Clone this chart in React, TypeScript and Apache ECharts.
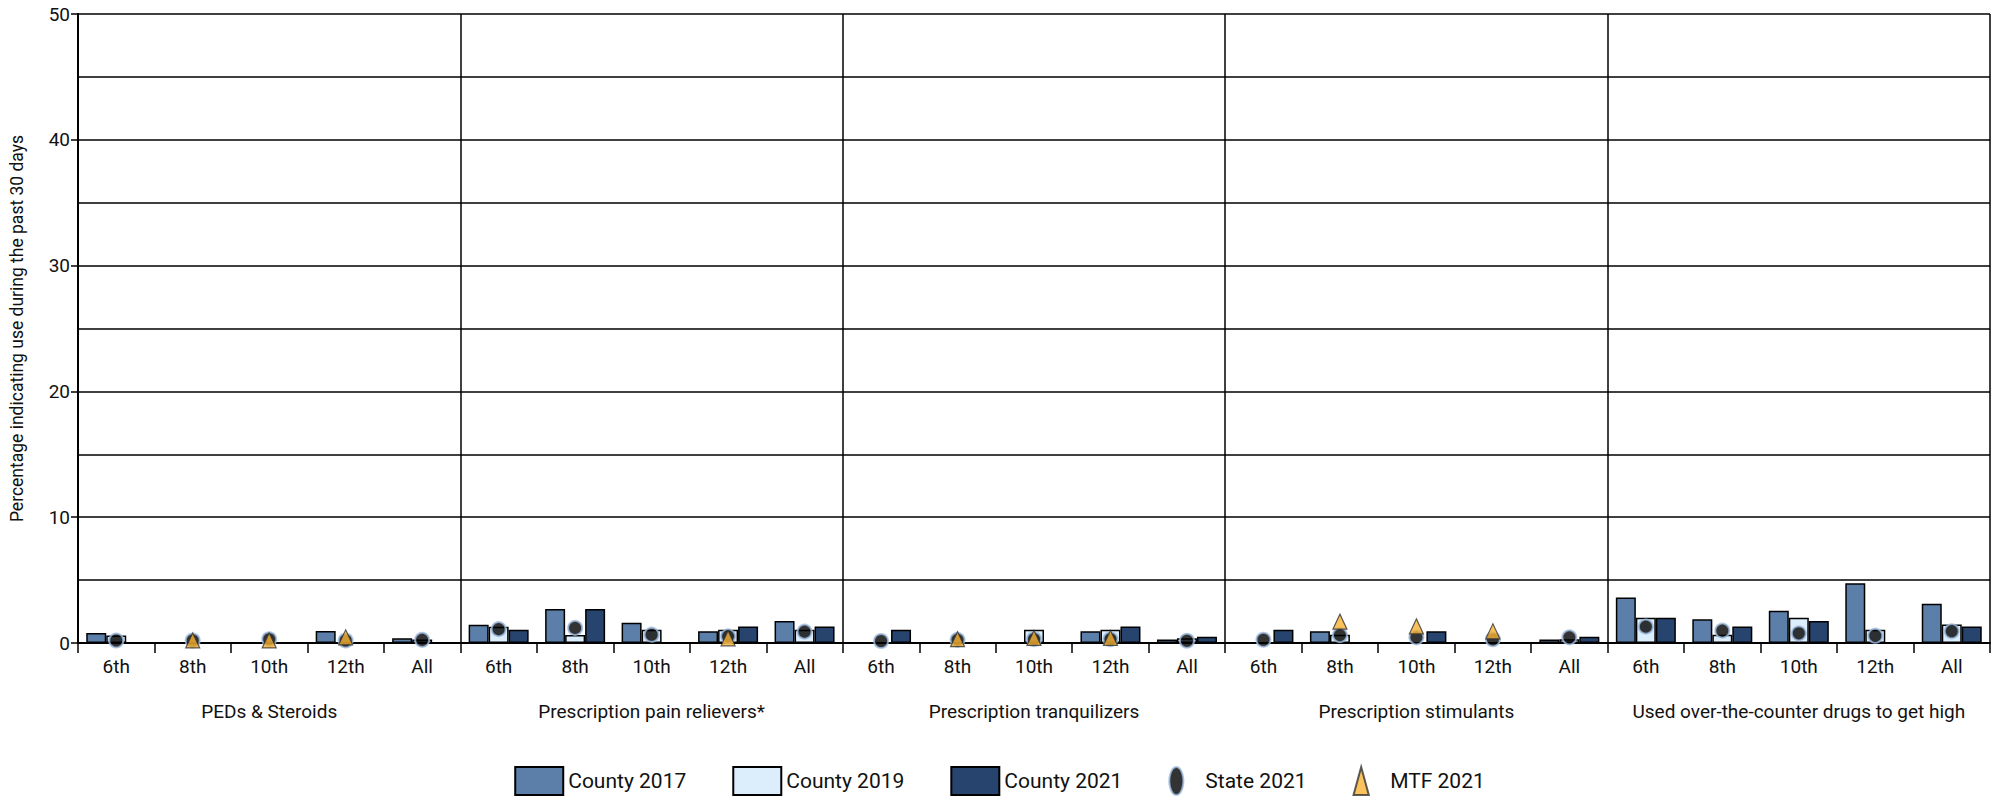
import React, { useEffect, useRef } from "react";
import * as echarts from "echarts";

const subCategories = ["6th", "8th", "10th", "12th", "All"];
const groups = [
  "PEDs & Steroids",
  "Prescription pain relievers*",
  "Prescription tranquilizers",
  "Prescription stimulants",
  "Used over-the-counter drugs to get high",
];
const yTicks = [0, 10, 20, 30, 40, 50];

// 25 values each: groups x grades (6th, 8th, 10th, 12th, All)
const county2017 = [
  0.8, null, null, 0.95, 0.37,
  1.45, 2.7, 1.6, 0.93, 1.75,
  null, null, null, 0.93, 0.27,
  null, 0.93, null, null, 0.27,
  3.62, 1.88, 2.56, 4.74, 3.12,
];
const county2019 = [
  0.6, null, null, null, 0.27,
  1.3, 0.63, 1.06, 1.06, 1.06,
  null, null, 1.06, 1.06, 0.37,
  null, 0.66, null, null, 0.3,
  2.0, 0.66, 2.0, 1.06, 1.48,
];
const county2021 = [
  null, null, null, null, null,
  1.06, 2.7, null, 1.32, 1.32,
  1.06, null, null, 1.32, 0.5,
  1.06, null, 0.93, null, 0.5,
  2.0, 1.32, 1.75, null, 1.32,
];
const state2021 = [
  0.2, 0.2, 0.3, 0.2, 0.25,
  1.1, 1.2, 0.66, 0.53, 0.9,
  0.16, 0.25, 0.3, 0.3, 0.18,
  0.26, 0.63, 0.45, 0.3, 0.45,
  1.3, 0.98, 0.77, 0.58, 0.93,
];
const mtf2021 = [
  null, 0.2, 0.2, 0.45, null,
  null, null, null, 0.37, null,
  null, 0.3, 0.4, 0.4, null,
  null, 1.7, 1.32, 0.93, null,
  null, null, null, null, null,
];

const FONT = "Roboto, 'Liberation Sans', sans-serif";

export default function App() {
  const ref = useRef<HTMLDivElement>(null);
  useEffect(() => {
    if (!ref.current) return;
    const chart = echarts.init(ref.current, undefined, { renderer: "svg" });
    const xData: string[] = [];
    groups.forEach(() => subCategories.forEach((s) => xData.push(s)));
    const barStyle = (color: string) => ({
      color,
      borderColor: "#000",
      borderWidth: 1.5,
    });
    chart.setOption({
      animation: false,
      textStyle: { fontFamily: FONT },
      grid: { left: 73, right: 9, top: 14, bottom: 158 },
      legend: {
        bottom: 0,
        left: "center",
        itemWidth: 48,
        itemHeight: 28,
        itemGap: 46,
        textStyle: { fontSize: 21, color: "#111", fontFamily: FONT },
        data: [
          { name: "County 2017", icon: "rect" },
          { name: "County 2019", icon: "rect" },
          { name: "County 2021", icon: "rect" },
          { name: "State 2021", icon: "path://M5,0 A5,10 0 1,1 4.99,0 Z" },
          { name: "MTF 2021", icon: "path://M6,0 L12,22 L0,22 Z" },
        ],
      },
      xAxis: [
        {
          type: "category",
          data: xData,
          position: "bottom",
          axisLine: { show: true, lineStyle: { color: "#000", width: 2 } },
          axisTick: { show: true, length: 10, interval: 0, lineStyle: { color: "#000", width: 1.5 } },
          axisLabel: { fontSize: 19, color: "#111", margin: 14, interval: 0, fontFamily: FONT },
          splitLine: { show: false },
        },
        {
          type: "category",
          data: groups,
          position: "bottom",
          offset: 51,
          axisLine: { show: false },
          axisTick: { show: false },
          axisLabel: { fontSize: 19, color: "#111", interval: 0, fontFamily: FONT },
          splitLine: { show: true, interval: 0, lineStyle: { color: "#000", width: 1.5 } },
        },
      ],
      yAxis: [
        {
          type: "value",
          min: 0,
          max: 50,
          interval: 5,
          axisLine: { show: true, lineStyle: { color: "#000", width: 2 } },
          axisTick: { show: false },
          axisLabel: { show: false },
          splitLine: { show: true, lineStyle: { color: "#000", width: 1.5 } },
        },
        {
          type: "value",
          min: yTicks[0],
          max: yTicks[yTicks.length - 1],
          interval: 10,
          position: "left",
          name: "Percentage indicating use during the past 30 days",
          nameLocation: "middle",
          nameGap: 52,
          nameTextStyle: { fontSize: 17.5, color: "#111", fontFamily: FONT },
          axisLine: { show: true, lineStyle: { color: "#000", width: 2 } },
          axisTick: { show: true, length: 7, lineStyle: { color: "#000", width: 1.5 } },
          axisLabel: { fontSize: 19, color: "#111", margin: 8, fontFamily: FONT },
          splitLine: { show: false },
        },
      ],
      series: [
        {
          name: "County 2017",
          type: "bar",
          data: county2017,
          barWidth: 20,
          barGap: "0%",
          itemStyle: barStyle("#5B7FA8"),
        },
        {
          name: "County 2019",
          type: "bar",
          data: county2019,
          barWidth: 20,
          barGap: "0%",
          itemStyle: barStyle("#DCEEFC"),
        },
        {
          name: "County 2021",
          type: "bar",
          data: county2021,
          barWidth: 20,
          barGap: "0%",
          itemStyle: barStyle("#26446E"),
        },
        {
          name: "State 2021",
          type: "scatter",
          data: state2021,
          symbol: "circle",
          symbolSize: 14,
          z: 3,
          itemStyle: { color: "#000", borderColor: "#9DBCE0", borderWidth: 2 },
        },
        {
          name: "MTF 2021",
          type: "scatter",
          data: mtf2021,
          symbol: "triangle",
          symbolSize: [14, 15],
          z: 4,
          itemStyle: { color: "#F8B333", borderColor: "#333", borderWidth: 1.2 },
        },
      ],
    });
    return () => chart.dispose();
  }, []);
  return (
    <div
      ref={ref}
      style={{ position: "fixed", left: 0, top: 0, width: 1999, height: 801, background: "#fff" }}
    />
  );
}
